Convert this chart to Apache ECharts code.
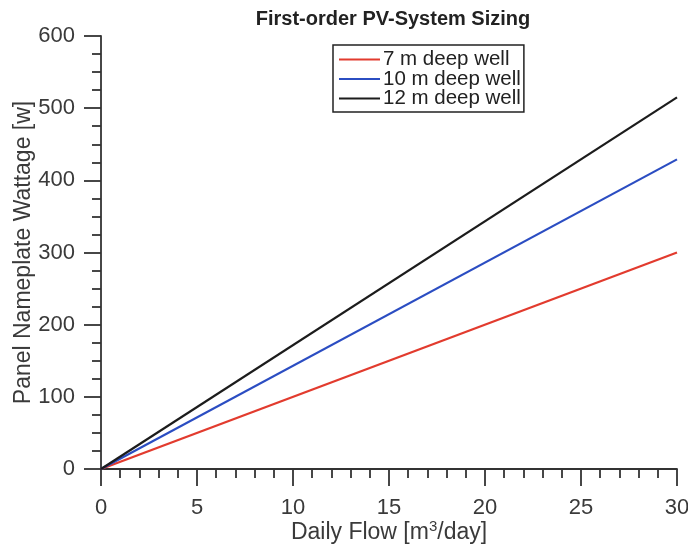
<!DOCTYPE html>
<html>
<head>
<meta charset="utf-8">
<script src="https://cdn.jsdelivr.net/npm/echarts@6/dist/echarts.min.js"></script>
<style>
  html, body { margin: 0; padding: 0; background: #fff; }
  #chart { width: 688px; height: 546px; }
</style>
</head>
<body>
<div id="chart"></div>
<script>
// Daily flow (m^3/day) at the ends of each sizing line
const flow = [0, 30];
// Panel nameplate wattage (W) for each well depth
const well7m = [0, 300];
const well10m = [0, 429];
const well12m = [0, 515];
const seriesNames = ['7 m deep well', '10 m deep well', '12 m deep well'];
const seriesColors = ['#e23b2e', '#2b4dc2', '#1c1c1c'];

const pairs = ys => flow.map((x, i) => [x, ys[i]]);

const chart = echarts.init(document.getElementById('chart'));
const font = 'Liberation Sans, Arial, Helvetica, sans-serif';
const axisColor = '#333';
const textColor = '#3a3a3a';

chart.setOption({
  animation: false,
  title: {
    text: 'First-order PV-System Sizing',
    left: 388, top: 4, textAlign: 'center',
    textStyle: { fontFamily: font, fontSize: 20, fontWeight: 'bold', color: '#222' }
  },
  grid: {
    left: 101, right: 11, top: 36, bottom: 77,
    containLabel: false,
    outerBoundsMode: 'none'
  },
  legend: {
    orient: 'vertical',
    left: 333, top: 45,
    padding: [4, 3, 3, 6],
    borderColor: '#222', borderWidth: 1.5,
    itemGap: -1.5,
    itemWidth: 41, itemHeight: 2,
    icon: 'rect',
    textStyle: { fontFamily: font, fontSize: 20.5, color: '#222', padding: [0, 0, 0, -2], lineHeight: 19.5 },
    data: seriesNames
  },
  xAxis: {
    type: 'value', min: 0, max: 30, interval: 5,
    name: 'Daily Flow [m{sup|3}/day]',
    nameLocation: 'middle', nameGap: 50,
    nameMoveOverlap: false,
    nameTextStyle: {
      fontFamily: font, fontSize: 23, color: textColor,
      rich: { sup: { fontFamily: font, fontSize: 15, color: textColor, verticalAlign: 'top', padding: [0, 0, 13, 0] } }
    },
    axisLine: { lineStyle: { color: axisColor, width: 1.8 } },
    axisTick: { inside: false, length: 17, lineStyle: { color: axisColor, width: 1.8 } },
    minorTick: { show: true, splitNumber: 5, length: 9, lineStyle: { color: axisColor, width: 1.8 } },
    axisLabel: { fontFamily: font, fontSize: 22, color: textColor, margin: 28 },
    splitLine: { show: false }
  },
  yAxis: {
    type: 'value', min: 0, max: 600, interval: 100,
    name: 'Panel Nameplate Wattage [w]',
    nameLocation: 'middle', nameGap: 66,
    nameMoveOverlap: false,
    nameTextStyle: { fontFamily: font, fontSize: 23, color: textColor },
    axisLine: { show: true, lineStyle: { color: axisColor, width: 1.8 } },
    axisTick: { show: true, inside: false, length: 17, lineStyle: { color: axisColor, width: 1.8 } },
    minorTick: { show: true, splitNumber: 4, length: 9, lineStyle: { color: axisColor, width: 1.8 } },
    axisLabel: { fontFamily: font, fontSize: 22, color: textColor, margin: 26 },
    splitLine: { show: false }
  },
  series: [well7m, well10m, well12m].map((ys, i) => ({
    name: seriesNames[i],
    type: 'line',
    data: pairs(ys),
    showSymbol: false,
    symbol: 'none',
    color: seriesColors[i],
    lineStyle: { color: seriesColors[i], width: 2.2 }
  }))
});
</script>
</body>
</html>
